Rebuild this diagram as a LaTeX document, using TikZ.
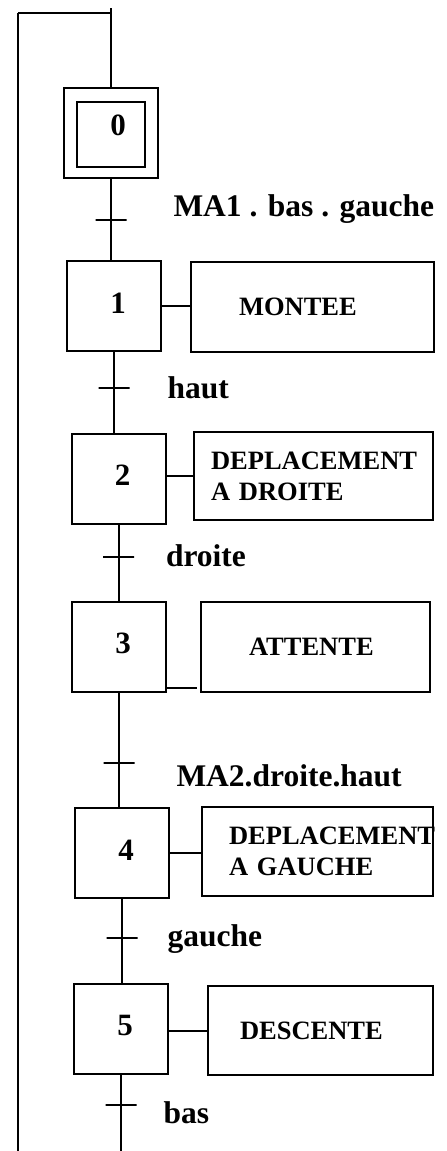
\documentclass[tikz,border=0pt]{standalone}
\usepackage{fontspec}
\setmainfont{Liberation Serif}
\usetikzlibrary{positioning}

\newcommand{\stepno}[1]{\hspace*{8pt}\raisebox{6pt}{#1}}

\begin{document}
\begin{tikzpicture}[
    x=1pt, y=-1pt,
    line width=2pt,
    stepbox/.style={draw, minimum width=94pt, minimum height=90pt, inner sep=0pt, font=\fontsize{31}{33}\selectfont\bfseries},
    action/.style={draw, inner ysep=0pt, align=left, font=\fontsize{26.5}{31}\selectfont\bfseries},
    tick/.style={draw, minimum width=31pt, minimum height=0pt, inner sep=0pt},
    cond/.style={inner sep=0pt, font=\fontsize{31.5}{34}\selectfont\bfseries}
]
\useasboundingbox (0,0) rectangle (447,1151);

% Steps
\node[stepbox] (s0) at (111,133) {};
\node[stepbox, minimum width=68pt, minimum height=65pt] (s0in) at (111,134.5) {\hspace*{14pt}\raisebox{18pt}{0}};
\node[stepbox] (s1) at (114,306) {\stepno{1}};
\node[stepbox] (s2) at (118.5,478.5) {\stepno{2}};
\node[stepbox] (s3) at (119,646.5) {\stepno{3}};
\node[stepbox] (s4) at (122,853) {\stepno{4}};
\node[stepbox] (s5) at (121,1028.5) {\stepno{5}};

% Actions
\node[action, inner xsep=48pt, text width=147pt, minimum height=90pt] (a1) at (312.5,307) {\mbox{MONTEE}};
\node[action, inner xsep=17pt, text width=205pt, minimum height=88pt] (a2) at (313.5,476) {\mbox{DEPLACEMENT}\\\mbox{A DROITE}};
\node[action, inner xsep=48pt, text width=133pt, minimum height=90pt] (a3) at (315.5,647) {\mbox{ATTENTE}};
\node[action, inner xsep=27pt, text width=177pt, minimum height=89pt] (a4) at (317.5,851.5) {\mbox{DEPLACEMENT}\\\mbox{A GAUCHE}};
\node[action, inner xsep=32pt, text width=161pt, minimum height=89pt] (a5) at (320.5,1030.5) {\mbox{DESCENTE}};

% Transitions
\node[tick] (t1) at (111,220) {};
\node[tick] (t2) at (114,388) {};
\node[tick] (t3) at (118.5,557) {};
\node[tick] (t4) at (119,763) {};
\node[tick] (t5) at (122,938) {};
\node[tick] (t6) at (121,1105) {};

\node[cond, right=45pt of t1, yshift=11pt] (c1) {MA1 . bas . gauche};
\node[cond, right=36pt of t2] (c2) {haut};
\node[cond, right=30pt of t3, yshift=1pt] (c3) {droite};
\node[cond, right=40pt of t4, yshift=-13pt] (c4) {MA2.droite.haut};
\node[cond, right=28pt of t5, yshift=-1pt] (c5) {gauche};
\node[cond, right=25pt of t6, yshift=-8pt] (c6) {bas};

% Loop back
\coordinate (top) at (111,8);
\coordinate (loopR) at (111,13);
\coordinate (loopL) at (18,13);
\coordinate (loopB) at (18,1151);
\coordinate (endB) at (121,1151);

\draw (s0.north) -- (top);
\draw (loopL) -- (loopR);
\draw (loopL) -- (loopB);

% Links between steps
\draw (s0.south) -- (s0.south |- s1.north);
\draw (s1.south) -- (s1.south |- s2.north);
\draw (s2.south) -- (s2.south |- s3.north);
\draw (s3.south) -- (s3.south |- s4.north);
\draw (s4.south) -- (s4.south |- s5.north);
\draw (s5.south) -- (s5.south |- endB);

% Steps to actions
\draw (s1.east) -- (s1.east -| a1.west);
\draw (a2.west -| s2.east) -- (a2.west);
\draw ([yshift=5pt]s3.south east) -- ([xshift=-3pt,yshift=5pt]s3.south east -| a3.west);
\draw (s4.east) -- (s4.east -| a4.west);
\draw (a5.west -| s5.east) -- (a5.west);

\end{tikzpicture}
\end{document}
